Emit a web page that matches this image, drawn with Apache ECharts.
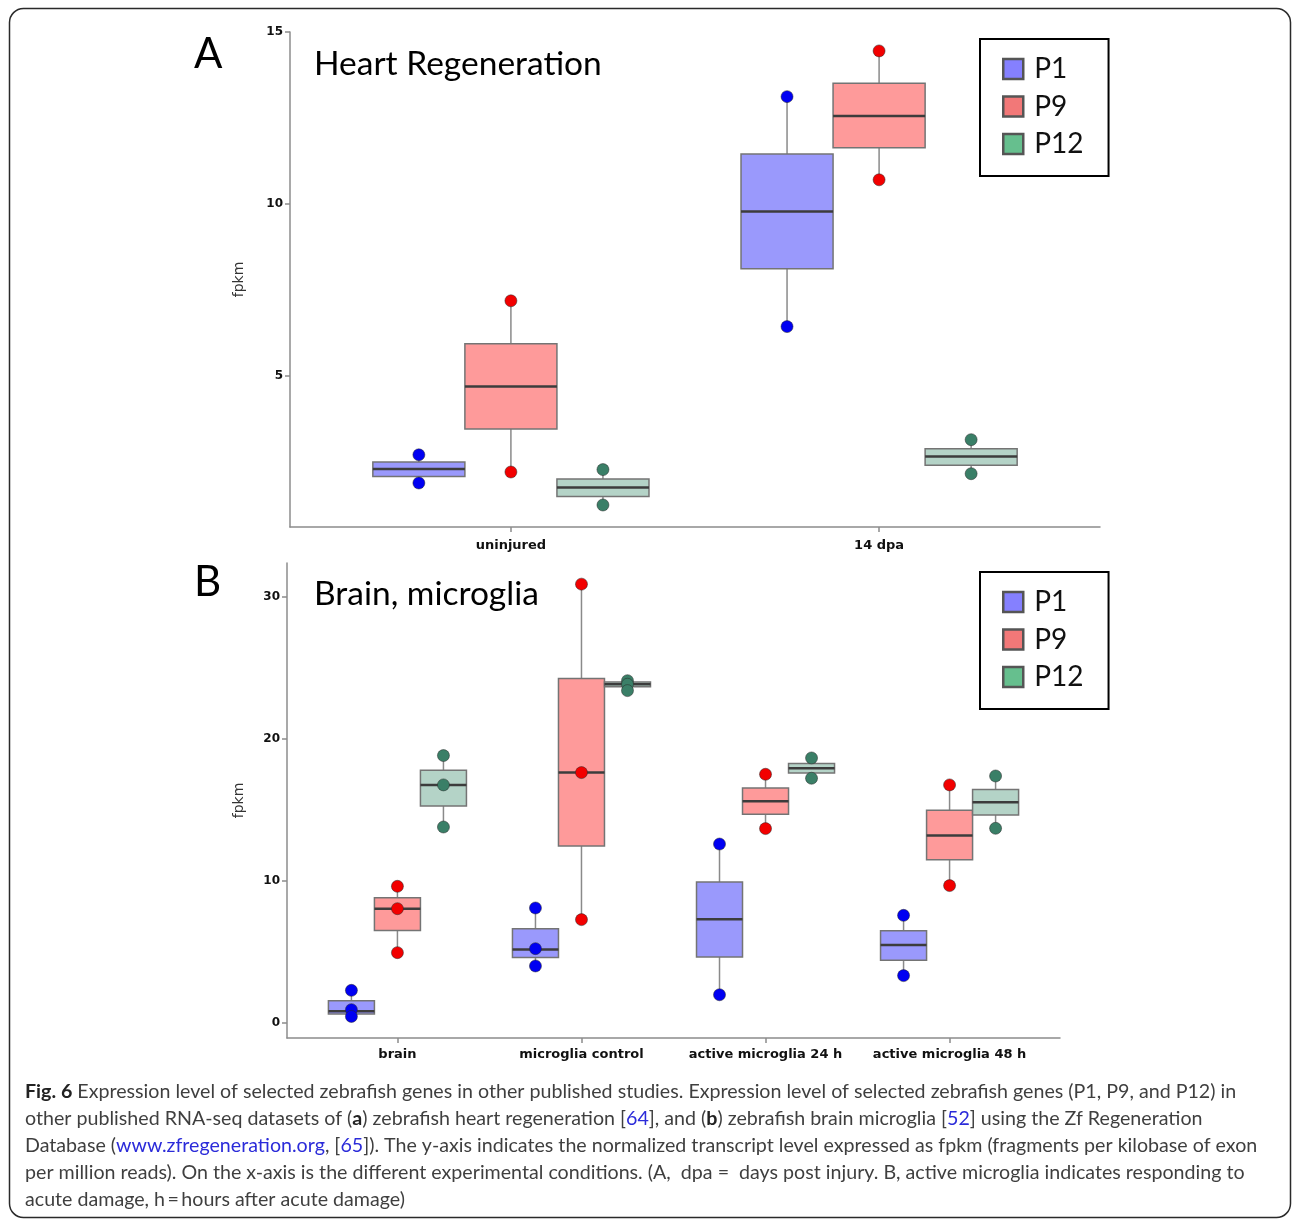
<!DOCTYPE html>
<html><head><meta charset="utf-8">
<script src="https://cdn.jsdelivr.net/npm/echarts@6/dist/echarts.min.js"></script>
<style>html,body{margin:0;padding:0;background:#fff}#c{width:1292px;height:1219px}</style>
</head><body><div id="c"></div>
<script>
// ---------- data ----------
const groups = ['P1', 'P9', 'P12'];

// Panel A: Heart Regeneration  (box = [min, q1, median, q3, max])
const catsA = ['uninjured', '14 dpa'];
const boxA_P1  = [[1.88, 2.07, 2.29, 2.49, 2.70], [6.43, 8.11, 9.78, 11.45, 13.12]];
const boxA_P9  = [[2.20, 3.45, 4.69, 5.93, 7.18], [10.70, 11.63, 12.56, 13.51, 14.45]];
const boxA_P12 = [[1.24, 1.49, 1.75, 2.00, 2.27], [2.15, 2.40, 2.65, 2.88, 3.14]];
const ptsA_P1  = [[2.70, 1.88], [13.12, 6.43]];
const ptsA_P9  = [[7.18, 2.20], [14.45, 10.70]];
const ptsA_P12 = [[2.27, 1.24], [3.14, 2.15]];
const ticksA = [5, 10, 15];

// Panel B: Brain, microglia
const catsB = ['brain', 'microglia control', 'active microglia 24 h', 'active microglia 48 h'];
const boxB_P1  = [[0.42, 0.59, 0.78, 1.53, 2.26], [3.98, 4.57, 5.15, 6.61, 8.07], [1.95, 4.61, 7.27, 9.90, 12.58], [3.30, 4.38, 5.46, 6.47, 7.55]];
const boxB_P9  = [[4.92, 6.49, 8.02, 8.80, 9.60], [7.25, 12.44, 17.62, 24.26, 30.91], [13.67, 14.68, 15.60, 16.54, 17.50], [9.65, 11.48, 13.18, 14.96, 16.75]];
const boxB_P12 = [[13.78, 15.27, 16.75, 17.78, 18.82], [23.40, 23.68, 23.85, 24.00, 24.10], [17.22, 17.59, 17.93, 18.26, 18.65], [13.69, 14.63, 15.53, 16.42, 17.38]];
const ptsB_P1  = [[2.26, 0.90, 0.42], [8.07, 5.20, 3.98], [12.58, 1.95], [7.55, 3.30]];
const ptsB_P9  = [[9.60, 8.02, 4.92], [30.91, 17.62, 7.25], [17.50, 13.67], [16.75, 9.65]];
const ptsB_P12 = [[18.82, 16.75, 13.78], [24.10, 23.85, 23.40], [18.65, 17.22], [17.38, 13.69]];
const ticksB = [0, 10, 20, 30];

const titleA = 'Heart Regeneration';
const titleB = 'Brain, microglia';
const captionLines = [
  '{b|Fig. 6} Expression level of selected zebrafish genes in other published studies. Expression level of selected zebrafish genes (P1, P9, and P12) in',
  'other published RNA-seq datasets of ({b|a}) zebrafish heart regeneration [{l|64}], and ({b|b}) zebrafish brain microglia [{l|52}] using the Zf Regeneration',
  'Database ({l|www.zfregeneration.org}, [{l|65}]). The y-axis indicates the normalized transcript level expressed as fpkm (fragments per kilobase of exon',
  'per million reads). On the x-axis is the different experimental conditions. (A,  dpa =  days post injury. B, active microglia indicates responding to',
  'acute damage, h\u2009=\u2009hours after acute damage)'
];

// ---------- styles ----------
const boxFill   = ['#9a99fc', '#fe9a9a', '#b4d3c7'];
const ptColor   = ['#0000f2', '#f20000', '#3a7f67'];
const legColor  = ['#8580ff', '#f27878', '#66bf8e'];
const BOX_W = 0.25;
const offsets = [-0.25, 0, 0.25];

const cv = document.createElement('canvas').getContext('2d');
function textW(t, weight, size, family) { cv.font = weight + ' ' + size + 'px ' + family; return cv.measureText(t).width; }
const capFam = 'Lato';
const l1Bold = 'Fig. 6', l1Rest = captionLines[0].replace('{b|Fig. 6}', '');
const capSize = 100 * 1212 / (textW(l1Bold, 'bold', 100, capFam) + textW(l1Rest, 'normal', 100, capFam));
const titleSize = 100 * 288 / textW(titleA, 'normal', 100, 'Lato');

function boxRender(params, api) {
  const x = api.value(0), lo = api.value(1), q1 = api.value(2), med = api.value(3), q3 = api.value(4), hi = api.value(5);
  const hw = BOX_W / 2;
  const tl = api.coord([x - hw, q3]), br = api.coord([x + hw, q1]);
  const m = api.coord([x, med]), pl = api.coord([x, lo]), ph = api.coord([x, hi]);
  const ws = { stroke: '#8a8a8a', lineWidth: 1.5 };
  return { type: 'group', children: [
    { type: 'line', shape: { x1: pl[0], y1: pl[1], x2: pl[0], y2: br[1] }, style: ws },
    { type: 'line', shape: { x1: ph[0], y1: ph[1], x2: ph[0], y2: tl[1] }, style: ws },
    { type: 'rect', shape: { x: tl[0], y: tl[1], width: br[0] - tl[0], height: br[1] - tl[1] },
      style: { fill: api.visual('color'), stroke: '#747474', lineWidth: 1.5 } },
    { type: 'line', shape: { x1: tl[0], y1: m[1], x2: br[0], y2: m[1] }, style: { stroke: '#3c3c3c', lineWidth: 2.5 } }
  ]};
}

const boxesA = [boxA_P1, boxA_P9, boxA_P12], boxesB = [boxB_P1, boxB_P9, boxB_P12];
const ptsA = [ptsA_P1, ptsA_P9, ptsA_P12], ptsB = [ptsB_P1, ptsB_P9, ptsB_P12];

const series = [];
[[boxesA, ptsA], [boxesB, ptsB]].forEach(([bx, pt], p) => {
  groups.forEach((g, i) => {
    series.push({
      type: 'custom', name: g, xAxisIndex: p, yAxisIndex: p, z: 2,
      itemStyle: { color: boxFill[i] },
      encode: { x: 0, y: [1, 2, 3, 4, 5] },
      renderItem: boxRender,
      data: bx[i].map((b, c) => [c + offsets[i]].concat(b))
    });
  });
  groups.forEach((g, i) => {
    const d = [];
    pt[i].forEach((vals, c) => vals.forEach(v => d.push([c + offsets[i], v])));
    series.push({
      type: 'scatter', name: g, xAxisIndex: p, yAxisIndex: p, z: 3,
      symbolSize: 12, data: d,
      itemStyle: { color: ptColor[i], borderColor: 'rgba(40,40,40,0.5)', borderWidth: 1, opacity: 1 }
    });
  });
});

const axisCol = '#8c8c8c';
function xAx(idx, cats, min, max, margin) {
  const vals = cats.map((c, i) => i);
  return {
    gridIndex: idx, type: 'value', min: min, max: max,
    axisLine: { show: true, onZero: false, lineStyle: { color: axisCol, width: 1.5 } },
    axisTick: { show: true, customValues: vals, length: 5, lineStyle: { color: axisCol, width: 1.5 } },
    axisLabel: { customValues: vals, formatter: v => cats[Math.round(v)], fontFamily: 'DejaVu Sans', fontWeight: 'bold', fontSize: 13, color: '#111', margin: margin },
    splitLine: { show: false }
  };
}
function yAx(idx, ticks, min, max, gap) {
  return {
    gridIndex: idx, type: 'value', min: min, max: max,
    name: 'fpkm', nameLocation: 'middle', nameGap: gap,
    nameTextStyle: { fontFamily: 'DejaVu Sans', fontSize: 14, color: '#333' },
    axisLine: { show: true, onZero: false, lineStyle: { color: axisCol, width: 1.5 } },
    axisTick: { show: true, customValues: ticks, length: 5, lineStyle: { color: axisCol, width: 1.5 } },
    axisLabel: { customValues: ticks, fontFamily: 'DejaVu Sans', fontWeight: 'bold', fontSize: 12, color: '#111', margin: 7 },
    splitLine: { show: false }
  };
}
function legend(top) {
  return {
    orient: 'vertical', left: 980, top: top, selectedMode: false,
    data: groups.map((g, i) => ({ name: g, icon: 'rect', itemStyle: { color: legColor[i], borderColor: '#555', borderWidth: 2.5 } })),
    itemWidth: 20, itemHeight: 20, itemGap: 9.5,
    padding: [16, 25, 18, 22],
    borderColor: '#000', borderWidth: 2,
    textStyle: { fontFamily: 'Lato', fontSize: 28, color: '#111', lineHeight: 20, padding: [0, 0, 0, 6] }
  };
}

const capRich = {
  b: { fontFamily: capFam, fontSize: capSize, fontWeight: 'bold', fill: '#222' },
  l: { fontFamily: capFam, fontSize: capSize, fill: '#2b2bd9' }
};
const capY = [1092, 1119, 1146, 1172.5, 1200];
const graphics = [
  { type: 'rect', shape: { x: 9.5, y: 8.5, width: 1281, height: 1209, r: 14 }, style: { fill: 'none', stroke: '#2a2a2a', lineWidth: 1.5 }, silent: true, z: -1 },
  { type: 'text', x: 194, y: 54, style: { text: 'A', fontFamily: 'Lato', fontSize: 42, fill: '#000', verticalAlign: 'middle' } },
  { type: 'text', x: 194, y: 582, style: { text: 'B', fontFamily: 'Lato', fontSize: 42, fill: '#000', verticalAlign: 'middle' } },
  { type: 'text', x: 314, y: 64, style: { text: titleA, fontFamily: 'Lato', fontSize: titleSize, fill: '#000', verticalAlign: 'middle' } },
  { type: 'text', x: 314, y: 594, style: { text: titleB, fontFamily: 'Lato', fontSize: titleSize, fill: '#000', verticalAlign: 'middle' } }
].concat(captionLines.map((t, i) => ({
  type: 'text', x: 25, y: capY[i],
  style: { text: t, rich: capRich, fontFamily: capFam, fontSize: capSize, fill: '#3f3f3f', verticalAlign: 'middle' }
})));

const chart = echarts.init(document.getElementById('c'), null, { renderer: 'canvas' });
chart.setOption({
  animation: false,
  backgroundColor: '#fff',
  grid: [
    { left: 290, top: 32, width: 810, height: 495 },
    { left: 287, top: 563, width: 773, height: 475 }
  ],
  xAxis: [xAx(0, catsA, -0.6, 1.6, 12), xAx(1, catsB, -0.6, 3.6, 10)],
  yAxis: [yAx(0, ticksA, 0.6, 15, 44), yAx(1, ticksB, -1.1, 32.4, 41)],
  legend: [legend(39), legend(572)],
  series: series,
  graphic: graphics
});
</script></body></html>
